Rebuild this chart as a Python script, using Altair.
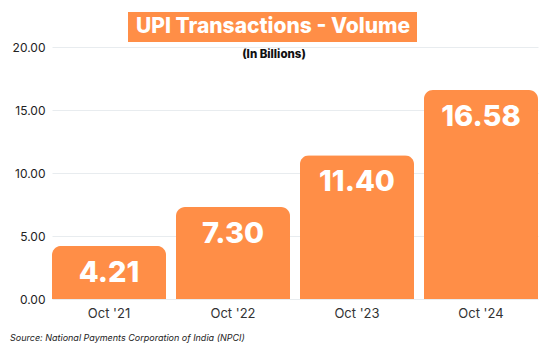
import altair as alt
import pandas as pd

months = ["Oct '21", "Oct '22", "Oct '23", "Oct '24"]
volumes = [4.21, 7.30, 11.40, 16.58]
y_ticks = [0, 5, 10, 15, 20]
title_text = "UPI Transactions - Volume"
subtitle_text = "(In Billions)"
source_text = "Source: National Payments Corporation of India (NPCI)"

ORANGE = "#FF8E47"
FONT = "Inter"

df = pd.DataFrame({"month": months, "volume": volumes})
df["label"] = [f"{v:.2f}" for v in volumes]

x_enc = alt.X("month:N", sort=months, title=None,
              scale=alt.Scale(paddingInner=0.08, paddingOuter=0),
              axis=alt.Axis(labelAngle=0, labelFont=FONT, labelFontSize=13,
                            labelColor="#333333", labelPadding=8, ticks=False,
                            domain=False, grid=False))
y_enc = alt.Y("volume:Q", title=None,
              scale=alt.Scale(domain=[0, 20], nice=False),
              axis=alt.Axis(values=y_ticks, format=".2f", labelFont=FONT,
                            labelFontSize=12, labelColor="#222222", labelPadding=7,
                            ticks=False, domain=False, gridColor="#E8ECEF",
                            gridWidth=1))

bars = alt.Chart(df).mark_bar(color=ORANGE, cornerRadiusTopLeft=9,
                              cornerRadiusTopRight=9).encode(x=x_enc, y=y_enc)

labels = alt.Chart(df).mark_text(color="white", font=FONT, fontWeight=800,
                                 fontSize=29, baseline="middle", dy=27).encode(
    x=alt.X("month:N", sort=months), y="volume:Q", text="label:N")

deco = pd.DataFrame({"t": [title_text]})
title_box = alt.Chart(deco).mark_rect(color=ORANGE).encode(
    x=alt.value(76), x2=alt.value(365), y=alt.value(-35), y2=alt.value(-5))
title = alt.Chart(deco).mark_text(color="white", font=FONT, fontWeight=800,
                                  fontSize=21, baseline="middle").encode(
    x=alt.value(221), y=alt.value(-20), text=alt.value(title_text))
subtitle = alt.Chart(deco).mark_text(color="#111111", font=FONT, fontWeight=800,
                                     fontSize=11.5, baseline="middle").encode(
    x=alt.value(222), y=alt.value(8), text=alt.value(subtitle_text))
source = alt.Chart(deco).mark_text(color="#222222", font=FONT, fontStyle="italic",
                                   fontSize=9, align="left", baseline="middle").encode(
    x=alt.value(-42), y=alt.value(291), text=alt.value(source_text))

chart = alt.layer(bars, labels, title_box, title, subtitle, source).properties(
    width=486, height=252,
    autosize=alt.AutoSizeParams(type="none"),
    padding={"left": 52, "top": 47, "right": 10, "bottom": 53},
    background="white",
).configure_view(stroke=None)

chart.save("out.html", embed_options={"renderer": "svg", "actions": False})
